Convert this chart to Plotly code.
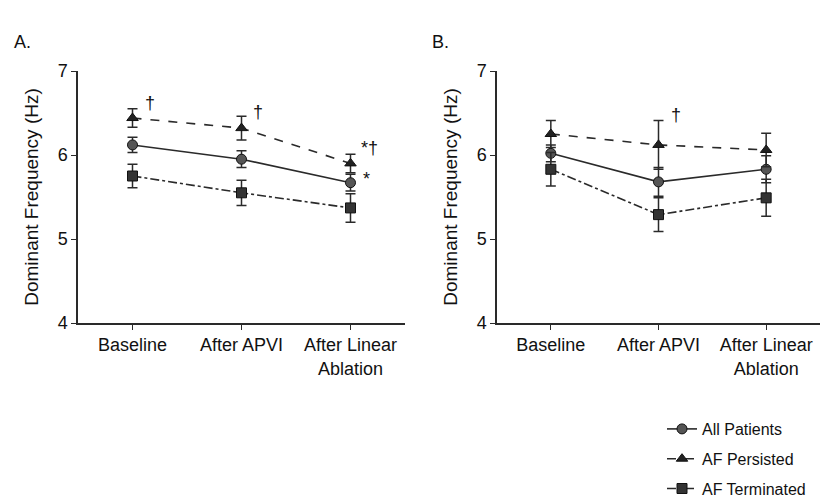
import plotly.graph_objects as go

categories = ["Baseline", "After APVI", "After Linear<br>Ablation"]
series_names = ["All Patients", "AF Persisted", "AF Terminated"]

# Panel A
a_all = [6.12, 5.95, 5.67]
a_all_err = [0.09, 0.10, 0.10]
a_pers = [6.44, 6.32, 5.90]
a_pers_err = [0.11, 0.14, 0.11]
a_term = [5.75, 5.55, 5.37]
a_term_err = [0.14, 0.15, 0.17]

# Panel B
b_all = [6.02, 5.68, 5.83]
b_all_err = [0.10, 0.17, 0.16]
b_pers = [6.25, 6.12, 6.06]
b_pers_err = [0.16, 0.29, 0.20]
b_term = [5.83, 5.29, 5.49]
b_term_err = [0.20, 0.20, 0.22]

FONT = "Liberation Sans, Arial, sans-serif"
INK = "#2a2a2a"
styles = [
    dict(symbol="circle", dash="solid", fill="#555555"),
    dict(symbol="triangle-up", dash="dash", fill="#222222"),
    dict(symbol="square", dash="dashdot", fill="#333333"),
]

xpos = list(range(len(categories)))
fig = go.Figure()

panels = [
    ("x", "y", [a_all, a_pers, a_term], [a_all_err, a_pers_err, a_term_err], True),
    ("x2", "y2", [b_all, b_pers, b_term], [b_all_err, b_pers_err, b_term_err], False),
]
for xa, ya, vals, errs, show in panels:
    for i, (name, v, e) in enumerate(zip(series_names, vals, errs)):
        st = styles[i]
        fig.add_trace(go.Scatter(
            x=xpos, y=v, xaxis=xa, yaxis=ya, name=name,
            mode="lines+markers",
            line=dict(color=INK, width=1.6, dash=st["dash"]),
            marker=dict(symbol=st["symbol"], size=10, color=st["fill"],
                        line=dict(color="#111111", width=1)),
            error_y=dict(type="data", array=e, visible=True, color=INK,
                         thickness=1.5, width=5),
            showlegend=show, legendgroup=name,
        ))

axis_common = dict(showline=True, linecolor=INK, linewidth=1.5, showgrid=False,
                   zeroline=False, ticks="outside", tickcolor=INK, ticklen=5,
                   automargin=False,
                   tickfont=dict(family=FONT, size=18, color="#111"))
ytitle = dict(text="Dominant Frequency (Hz)", standoff=14,
              font=dict(family=FONT, size=19, color="#111"))
fig.update_layout(
    xaxis=dict(domain=[78/828, 405/828], range=[-0.5, 2.5], tickvals=xpos,
               ticktext=categories, anchor="y", **axis_common),
    xaxis2=dict(domain=[497/828, 820/828], range=[-0.5, 2.5], tickvals=xpos,
                ticktext=categories, anchor="y2", **axis_common),
    yaxis=dict(domain=[1-323/499, 1-71/499], range=[4, 7], tickvals=[4, 5, 6, 7],
               anchor="x", title=ytitle, **axis_common),
    yaxis2=dict(domain=[1-323/499, 1-71/499], range=[4, 7], tickvals=[4, 5, 6, 7],
                anchor="x2", title=ytitle, **axis_common),
    width=828, height=499,
    margin=dict(l=0, r=0, t=0, b=0, autoexpand=False),
    paper_bgcolor="white", plot_bgcolor="white",
    font=dict(family=FONT, size=17, color="#111"),
    legend=dict(x=662/828, y=1-412/499, xanchor="left", yanchor="top",
                font=dict(family=FONT, size=16, color="#111"),
                tracegroupgap=6, itemwidth=30, bgcolor="rgba(0,0,0,0)"),
)

ann = [
    ("x", "y", 0.1, 6.62, "†"),
    ("x", "y", 1.09, 6.51, "†"),
    ("x", "y", 2.08, 6.08, "*†"),
    ("x", "y", 2.1, 5.72, "*"),
    ("x2", "y2", 1.1, 6.48, "†"),
]
for xr, yr, xx, yy, t in ann:
    fig.add_annotation(x=xx, y=yy, xref=xr, yref=yr, text=t, showarrow=False,
                       xanchor="left", font=dict(family=FONT, size=18, color="#111"))

fig.add_annotation(x=12/828, y=1-30/499, xref="paper", yref="paper", text="A.",
                   showarrow=False, xanchor="left", font=dict(family=FONT, size=18, color="#111"))
fig.add_annotation(x=430/828, y=1-30/499, xref="paper", yref="paper", text="B.",
                   showarrow=False, xanchor="left", font=dict(family=FONT, size=18, color="#111"))

fig.write_html("out.html")
